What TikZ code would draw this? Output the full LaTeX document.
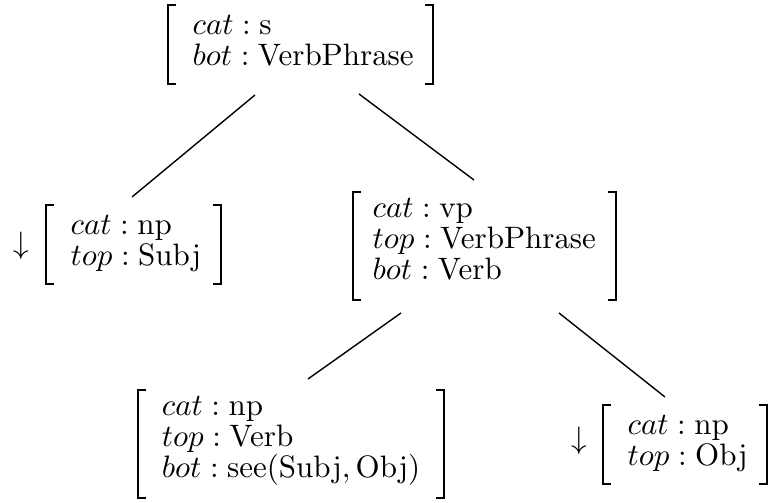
\documentclass[tikz,border=0pt]{standalone}
% struts: every row is 10pt (31px) from baseline to baseline
\newcommand\firstA{\rule[-2.5pt]{0pt}{11.85pt}}  % height 29px
\newcommand\lastA{\rule[-5.81pt]{0pt}{13.31pt}}  % depth 18px
\newcommand\firstB{\rule[-2.5pt]{0pt}{10.57pt}}  % height 25px
\newcommand\lastB{\rule[-6.45pt]{0pt}{13.95pt}}  % depth 20px
\newcommand\midrow{\rule[-2.5pt]{0pt}{10pt}}
\newcommand\avmbrackets[2]{%
  \draw[brk] ([xshift=-#2+2.6pt]#1.north west) -- ([xshift=-#2]#1.north west)
     -- ([xshift=-#2]#1.south west) -- ([xshift=-#2+2.6pt]#1.south west);
  \draw[brk] ([xshift=-2.6pt]#1.north east) -- (#1.north east)
     -- (#1.south east) -- ([xshift=-2.6pt]#1.south east);}
\begin{document}
\begin{tikzpicture}[x=0.3226pt,y=-0.3226pt,
  avm/.style={align=left, inner xsep=6.13pt, inner ysep=0pt, anchor=north west,
    font=\fontsize{10}{10}\selectfont},
  arrowmark/.style={inner sep=0pt, anchor=center},
  brk/.style={line width=0.6pt},
  edge/.style={line width=0.45pt}]
\useasboundingbox (0,0) rectangle (772,503);

\node[avm] (top) at (173,5)
  {\firstA$cat : \mathrm{s}$\\ $bot : \mathrm{VerbPhrase}$\lastA};
\node[avm] (subj) at (51,205)
  {\firstA$cat : \mathrm{np}$\\ $top : \mathrm{Subj}$\lastA};
\node[avm] (vp) at (353,192)
  {\firstB$cat : \mathrm{vp}$\\ \midrow$top : \mathrm{VerbPhrase}$\\ $bot : \mathrm{Verb}$\lastB};
\node[avm, inner xsep=7.5pt] (np) at (138,390)
  {\firstB$cat : \mathrm{np}$\\ \midrow$top : \mathrm{Verb}$\\ $bot : \mathrm{see}(\mathrm{Subj}, \mathrm{Obj})$\lastB};
\node[avm] (obj) at (608,405)
  {\firstA$cat : \mathrm{np}$\\ $top : \mathrm{Obj}$\lastA};

\node[arrowmark] (arrS) at (21,246) {$\downarrow$};
\node[arrowmark] (arrO) at (579,441) {$\downarrow$};

\avmbrackets{top}{1.6pt}
\avmbrackets{subj}{1.6pt}
\avmbrackets{vp}{0pt}
\avmbrackets{np}{0pt}
\avmbrackets{obj}{1.6pt}

\coordinate (e1a) at (255,95);  \coordinate (e1b) at (132,197);
\coordinate (e2a) at (359,94);  \coordinate (e2b) at (474,180);
\coordinate (e3a) at (401,313); \coordinate (e3b) at (308,379);
\coordinate (e4a) at (559,313); \coordinate (e4b) at (665,397);
\draw[edge] (e1a) -- (e1b);
\draw[edge] (e2a) -- (e2b);
\draw[edge] (e3a) -- (e3b);
\draw[edge] (e4a) -- (e4b);
\end{tikzpicture}
\end{document}
